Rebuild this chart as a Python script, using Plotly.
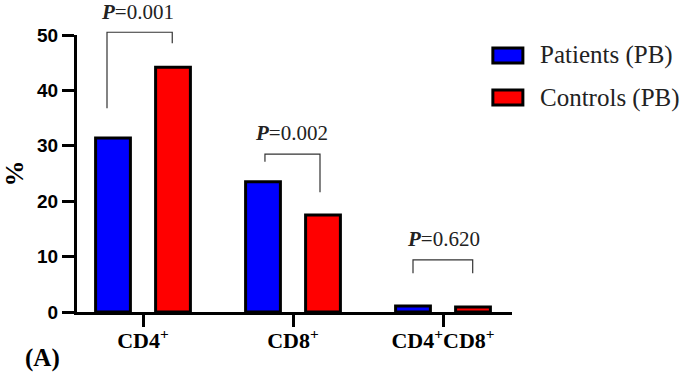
import plotly.graph_objects as go

categories = ["CD4<sup>+</sup>", "CD8<sup>+</sup>", "CD4<sup>+</sup>CD8<sup>+</sup>"]
patients_pb = [31.4, 23.5, 1.1]
controls_pb = [44.2, 17.5, 0.9]
p_values = ["0.001", "0.002", "0.620"]
series_names = ["Patients (PB)", "Controls (PB)"]
y_ticks = [0, 10, 20, 30, 40, 50]

# brackets: (left x offset, right x offset, left foot y, right foot y, top y) in data units
brackets = [(-0.24, 0.195, 36.8, 48.5, 50.5),
            (-0.187, 0.18, 27.1, 21.6, 28.5),
            (-0.20, 0.198, 7.0, 7.0, 9.4)]
p_label_pos = [(-0.037, 54.2), (-0.01, 32.3), (0.0, 13.2)]

Y_MAX = 50
xs = list(range(len(categories)))

fig = go.Figure()
fig.add_trace(go.Bar(x=xs, y=patients_pb, name=series_names[0],
                     marker=dict(color="#0000FF", line=dict(color="black", width=3))))
fig.add_trace(go.Bar(x=xs, y=controls_pb, name=series_names[1],
                     marker=dict(color="#FF0000", line=dict(color="black", width=3))))

shapes = []
annotations = []
for i, (xl, xr, yl, yr, yt) in enumerate(brackets):
    path = (f"M {xs[i]+xl},{yl/Y_MAX} L {xs[i]+xl},{yt/Y_MAX} "
            f"L {xs[i]+xr},{yt/Y_MAX} L {xs[i]+xr},{yr/Y_MAX}")
    shapes.append(dict(type="path", xref="x", yref="paper", path=path,
                       line=dict(color="#333333", width=1.2)))
    px, py = p_label_pos[i]
    annotations.append(dict(x=xs[i]+px, y=py/Y_MAX, xref="x", yref="paper", showarrow=False,
                            text=f"<b><i>P</i></b>={p_values[i]}",
                            font=dict(family="Liberation Serif", size=21, color="#222222"),
                            xanchor="center", yanchor="middle"))

# custom legend
legend_rows = [(0.953, 0.899, "#0000FF"), (0.801, 0.747, "#FF0000")]
for (y1, y0, col), name in zip(legend_rows, series_names):
    shapes.append(dict(type="rect", xref="paper", yref="paper", x0=0.956, x1=1.025,
                       y0=y0, y1=y1, fillcolor=col, line=dict(color="black", width=3)))
    annotations.append(dict(x=1.06, y=(y0+y1)/2, xref="paper", yref="paper", showarrow=False,
                            text=name, xanchor="left", yanchor="middle",
                            font=dict(family="Liberation Serif", size=25, color="#222222")))

annotations.append(dict(x=-0.08, y=-0.166, xref="paper", yref="paper", showarrow=False,
                        text="<b>(A)</b>", xanchor="center", yanchor="middle",
                        font=dict(family="Liberation Serif", size=25, color="black")))

fig.update_layout(
    width=685, height=373,
    margin=dict(l=77, r=173, t=35, b=61),
    paper_bgcolor="white", plot_bgcolor="white",
    barmode="group", bargap=0.2, bargroupgap=0.42,
    showlegend=False,
    shapes=shapes, annotations=annotations,
    xaxis=dict(range=[-0.44, 2.46], tickvals=xs, ticktext=categories,
               automargin=False, ticklabelstandoff=-5,
               showline=True, linecolor="black", linewidth=3,
               ticks="outside", ticklen=12, tickwidth=3, tickcolor="black",
               showgrid=False, zeroline=False,
               tickfont=dict(family="Liberation Serif", size=22, color="black", weight="bold")),
    yaxis=dict(range=[0, Y_MAX], tickvals=y_ticks, automargin=False,
               showline=True, linecolor="black", linewidth=3,
               ticks="outside", ticklen=12, tickwidth=3, tickcolor="black",
               showgrid=False, zeroline=False,
               tickfont=dict(family="Liberation Sans", size=19, color="black", weight="bold"),
               title=dict(text="%", standoff=22,
                          font=dict(family="Liberation Serif", size=26, color="black", weight="bold"))),
)

# remove the page's default body margin so the figure sits at the window's corner
fig.write_html("out.html", config={"displayModeBar": False},
               post_script="document.body.style.margin='0';document.body.style.overflow='hidden';")
